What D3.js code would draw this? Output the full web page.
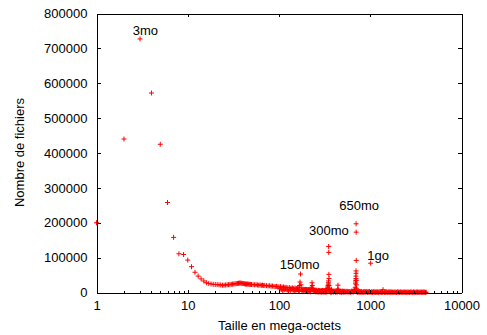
<!DOCTYPE html>
<html>
<head>
<meta charset="utf-8">
<script src="https://cdn.jsdelivr.net/npm/d3@7"></script>
<style>
  body { margin: 0; background: #fff; }
  svg text { font-family: "Liberation Sans", Arial, sans-serif; font-size: 13px; fill: #000; }
</style>
</head>
<body>
<svg id="chart" width="487" height="335"></svg>
<script>
// file sizes in MB and number of files
const headSizes = [1, 2, 3, 4, 5, 6, 7, 8, 9, 10, 11, 12, 13, 14, 15, 16, 17, 18, 19, 20,
  21, 22, 23, 24, 25, 26, 27, 28, 29, 30, 31, 32, 33, 34, 35, 36, 37, 38, 39, 40,
  41, 42, 43, 44, 45, 46, 47, 48, 49, 50, 52, 54, 56, 58, 60, 62, 64, 66, 68, 70,
  73, 76, 79, 82, 85, 88, 91, 94, 97, 100];
const headCounts = [200000, 440000, 727000, 572000, 425000, 258000, 158000, 111000, 109000, 93000,
  74000, 58000, 47000, 39000, 33000, 28000, 26000, 24500, 23500, 23000,
  22500, 22000, 21500, 21000, 21000, 21500, 22000, 22500, 23000, 23500,
  24000, 24500, 25000, 25500, 26000, 26500, 27000, 27000, 26500, 26000,
  25500, 25000, 24500, 24000, 24500, 24000, 23500, 23500, 23000, 23000,
  22500, 22000, 22500, 21500, 21000, 21500, 20500, 21000, 20000, 20500,
  19500, 19000, 19500, 18000, 18500, 17500, 17000, 17500, 16000, 16500];

const tailSizes = [104, 106, 108, 112, 114, 116, 120, 123, 125, 130, 133, 135, 140, 143, 145,
  150, 153, 155, 160, 163, 165, 168, 170, 172, 174, 176, 180, 183, 185, 190, 193, 195,
  200, 203, 205, 210, 215, 218, 220, 225, 228, 230, 232, 234, 236, 240, 245, 248, 250,
  255, 260, 265, 270, 275, 280, 285, 290, 295, 300, 305, 310, 315, 320, 325, 330, 335,
  340, 343, 345, 347, 348, 349, 350, 351, 352, 353, 354, 356, 360, 365, 370, 375, 380,
  390, 400, 410, 420, 430, 440, 443, 446, 450, 460, 470, 480, 490, 500, 510, 520, 540,
  560, 580, 600, 620, 640, 660, 675, 685, 690, 692, 694, 696, 697, 698, 699, 700, 701,
  702, 703, 704, 706, 710, 720, 740, 760, 780, 800, 830, 860, 890, 920, 950, 980, 1010,
  1040, 1080, 1120, 1160, 1200, 1250, 1300, 1350, 1380, 1450, 1500, 1560, 1620, 1680,
  1750, 1820, 1900, 1980, 2060, 2150, 2240, 2330, 2430, 2530, 2640, 2750, 2860, 2980,
  3100, 3230, 3360, 3500, 3650, 3800, 3950, 4100];
const tailCounts = [17000, 9000, 15500, 16000, 8000, 14500, 15000, 7000, 13500, 14000, 6000, 12500, 13500, 6500, 12000,
  13000, 5500, 11500, 12000, 5000, 14000, 20000, 30000, 53000, 22000, 10000, 9500, 4500, 9000, 8500, 4000, 9000,
  8500, 4000, 8000, 8500, 7500, 3500, 8000, 10000, 15000, 28000, 20000, 11000, 7000, 7500, 6500, 3000, 7000,
  6000, 6500, 3000, 6000, 5500, 6000, 2500, 5500, 5000, 6000, 2500, 5500, 5000, 5500, 7000, 6000, 9000,
  12000, 16000, 20000, 24000, 28000, 33000, 132000, 115000, 52000, 40000, 20000, 12000, 8000, 5000, 4500, 9000, 4000,
  4500, 3500, 4000, 3000, 5000, 10000, 21000, 8000, 4000, 3500, 4000, 3000, 3500, 4000, 2500, 3500, 3000,
  3500, 2500, 3000, 4000, 3500, 5000, 8000, 15000, 25000, 30000, 35000, 40000, 47000, 55000, 62000, 197000, 173000,
  92000, 35000, 22000, 12000, 6000, 3000, 2500, 3000, 2000, 2500, 2000, 3000, 2000, 2500, 2000, 2500, 84000,
  2000, 2500, 1500, 2000, 1500, 2500, 1500, 2000, 8000, 1500, 2000, 1000, 1500, 2000,
  1000, 1500, 1000, 2000, 1000, 1500, 1000, 1500, 1000, 1500, 1000, 1500, 1000, 1500,
  1000, 1500, 1000, 1500, 1000, 1500, 1000, 1000];

// the low floor of the thick band between 100 MB and 4 GB
const floorSizes = [102, 110, 118, 127, 137, 147, 157, 167, 178, 187,
  197, 207, 212, 222, 242, 252, 257, 262, 267, 272,
  277, 282, 287, 292, 297, 302, 307, 312, 317, 322,
  327, 332, 337, 362, 367, 372, 377, 385, 395, 405,
  415, 425, 435, 455, 465, 475, 485, 495, 505, 515,
  530, 550, 570, 590, 610, 630, 650, 668, 715, 730,
  750, 770, 790, 815, 845, 875, 905, 935, 965, 995,
  1025, 1060, 1100, 1140, 1180, 1225, 1275, 1325, 1365, 1425,
  1475, 1530, 1590, 1650, 1715, 1785, 1860, 1940, 2020, 2100,
  2195, 2285, 2380, 2480, 2585, 2695, 2805, 2920, 3040, 3165,
  3295, 3430, 3575, 3725, 3875, 4025];
const floorCounts = [11000, 5000, 10000, 4000, 9500, 3500, 8500, 3000, 6000, 3000,
  5500, 2500, 6000, 2000, 5000, 2000, 4500, 1500, 4500, 1500,
  4000, 1500, 4000, 1000, 4500, 1500, 4000, 1000, 3500, 1000,
  4000, 1500, 5000, 3000, 1000, 2500, 800, 2500, 1200, 2500,
  900, 2000, 1100, 2500, 700, 2000, 500, 2000, 1000, 2200,
  600, 2000, 1000, 1500, 400, 2000, 900, 3000, 1500, 500,
  1500, 600, 1400, 300, 1000, 500, 1600, 400, 1100, 600,
  1000, 300, 1200, 500, 900, 200, 1100, 600, 1000, 300,
  900, 500, 1200, 200, 1000, 400, 800, 300, 1100, 500,
  900, 200, 1000, 400, 800, 300, 1100, 200, 900, 400,
  1000, 300, 800, 500, 900, 200];

const xTickValues = [1, 10, 100, 1000, 10000];
const yTickValues = [0, 100000, 200000, 300000, 400000, 500000, 600000, 700000, 800000];

// gnuplot-style labels, placed at data coordinates (left edge of text)
const noteTexts = ["3mo", "150mo", "300mo", "650mo", "1go"];
const noteSizes = [2.5, 102, 213, 458, 929];
const noteCounts = [738000, 66000, 166000, 236000, 94500];

const svg = d3.select("#chart");

const x = d3.scaleLog().domain([1, 10000]).range([96.5, 461.5]);
const y = d3.scaleLinear().domain([0, 800000]).range([292.5, 13.5]);

const points = headSizes.map((s, i) => ({ size: s, count: headCounts[i] }))
  .concat(tailSizes.map((s, i) => ({ size: s, count: tailCounts[i] })))
  .concat(floorSizes.map((s, i) => ({ size: s, count: floorCounts[i] })));

// the points go first, the border is drawn on top of them
svg.append("g").attr("class", "points")
  .selectAll("path").data(points)
  .enter()
  .append("path")
  .attr("transform", d => `translate(${x(d.size)},${y(d.count)})`)
  .attr("d", "M-2.5,0H2.5M0,-2.5V2.5")
  .attr("stroke", "#ff0000")
  .attr("stroke-width", 1)
  .attr("fill", "none");

// minor ticks for the log axis
const minorTicks = [];
xTickValues.slice(0, -1).forEach(d => {
  for (let k = 2; k < 10; k++) minorTicks.push(d * k);
});

function styleAxis(g) {
  g.selectAll("path, line").attr("stroke", "#000").attr("shape-rendering", "crispEdges");
  g.selectAll("text").attr("font-size", null).attr("font-family", null);
}

const bottom = d3.axisBottom(x).tickValues(xTickValues).tickFormat(d3.format("d"))
  .tickSize(-3).tickSizeOuter(0).tickPadding(8);
svg.append("g").attr("transform", "translate(0,292.5)").call(bottom).call(styleAxis);
svg.append("g").attr("transform", "translate(0,292.5)")
  .call(d3.axisBottom(x).tickValues(minorTicks).tickFormat("").tickSize(-1.5).tickSizeOuter(0))
  .call(styleAxis);

svg.append("g").attr("transform", "translate(0,13.5)")
  .call(d3.axisTop(x).tickValues(xTickValues).tickFormat("").tickSize(-3).tickSizeOuter(0))
  .call(styleAxis);
svg.append("g").attr("transform", "translate(0,13.5)")
  .call(d3.axisTop(x).tickValues(minorTicks).tickFormat("").tickSize(-1.5).tickSizeOuter(0))
  .call(styleAxis);

svg.append("g").attr("transform", "translate(96.5,0)")
  .call(d3.axisLeft(y).tickValues(yTickValues).tickFormat(d3.format("d"))
    .tickSize(-4).tickSizeOuter(0).tickPadding(9))
  .call(styleAxis);
svg.append("g").attr("transform", "translate(461.5,0)")
  .call(d3.axisRight(y).tickValues(yTickValues).tickFormat("").tickSize(-4).tickSizeOuter(0))
  .call(styleAxis);

// annotations
svg.append("g").selectAll("text").data(noteTexts)
  .enter()
  .append("text")
  .attr("x", (t, i) => x(noteSizes[i]))
  .attr("y", (t, i) => y(noteCounts[i]))
  .text(t => t);

// axis titles
svg.append("text")
  .attr("x", 279.5).attr("y", 329.5)
  .attr("text-anchor", "middle")
  .text("Taille en mega-octets");

svg.append("text")
  .attr("transform", "translate(23.5,152.5) rotate(-90)")
  .attr("text-anchor", "middle")
  .text("Nombre de fichiers");
</script>
</body>
</html>
